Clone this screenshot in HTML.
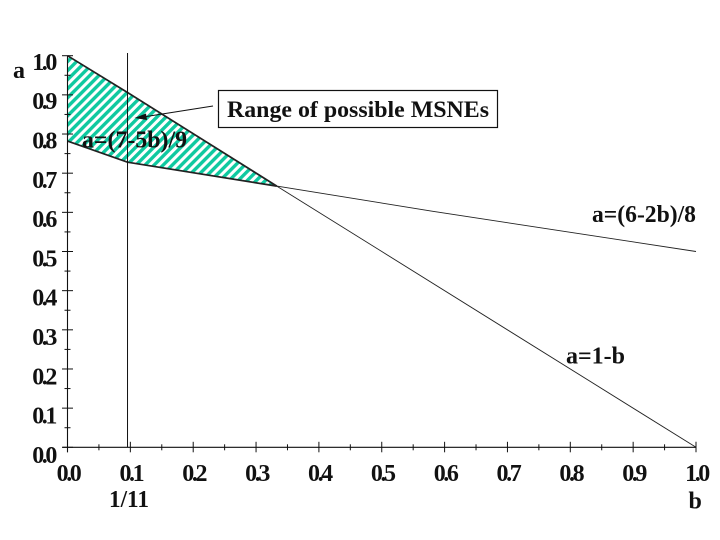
<!DOCTYPE html>
<html lang="en">
<head>
<meta charset="utf-8">
<title>Range of possible MSNEs</title>
<style>
html,body{margin:0;padding:0;background:#fff;}
svg{display:block;}
text{font-family:"Liberation Serif",serif;font-weight:bold;fill:#111;}
</style>
</head>
<body>
<svg id="chart" width="720" height="540" viewBox="0 0 720 540" xmlns="http://www.w3.org/2000/svg">
  <defs>
    <pattern id="hatch" patternUnits="userSpaceOnUse" width="6.4" height="6.4" patternTransform="rotate(45)">
      <rect width="6.4" height="6.4" fill="#fff"/>
      <rect width="3.4" height="6.4" fill="#0fc9a0"/>
    </pattern>
  </defs>
  <g id="marks"></g>
  <g id="axes"></g>
  <g id="tick-labels"></g>
  <text x="13" y="78" font-size="24">a</text>
  <text x="688.5" y="508.5" font-size="24">b</text>
  <text x="109" y="507" font-size="24" textLength="40" lengthAdjust="spacingAndGlyphs">1/11</text>
  <text x="82" y="147.5" font-size="24" textLength="105" lengthAdjust="spacingAndGlyphs">a=(7-5b)/9</text>
  <text x="592" y="222" font-size="24" textLength="104" lengthAdjust="spacingAndGlyphs">a=(6-2b)/8</text>
  <text x="566" y="363.5" font-size="24" textLength="59" lengthAdjust="spacingAndGlyphs">a=1-b</text>
  <g>
    <rect x="218.5" y="90.5" width="279" height="37" fill="#fff" stroke="#111" stroke-width="1.2"/>
    <text x="227" y="117" font-size="23.5" textLength="262" lengthAdjust="spacingAndGlyphs">Range of possible MSNEs</text>
    <line x1="213" y1="106" x2="140" y2="117.5" stroke="#111" stroke-width="1.1"/>
    <polygon points="134.5,118 146,113.5 147,120" fill="#111"/>
  </g>
</svg>
<script>
var xTicks = [0.0, 0.1, 0.2, 0.3, 0.4, 0.5, 0.6, 0.7, 0.8, 0.9, 1.0];
var yTicks = [0.0, 0.1, 0.2, 0.3, 0.4, 0.5, 0.6, 0.7, 0.8, 0.9, 1.0];
var diagonalB = [0.0, 0.0955, 0.333, 1.0];
var diagonalA = [1.0, 0.906, 0.667, 0.0];
var lowerB = [0.0, 0.0955, 0.333, 0.58, 1.0];
var lowerA = [0.782, 0.728, 0.667, 0.603, 0.5];
var verticalB = [0.0955];

var NS = 'http://www.w3.org/2000/svg';
function sx(b) { return 67.5 + b * 628.5; }
function sy(a) { return 447.3 - a * 391.6; }
function make(tag, attrs, parent) {
  var el = document.createElementNS(NS, tag);
  for (var k in attrs) { el.setAttribute(k, attrs[k]); }
  parent.appendChild(el);
  return el;
}
var marks = document.getElementById('marks');
var axes = document.getElementById('axes');
var labels = document.getElementById('tick-labels');

function pointsOf(xs, ys, from, to) {
  var out = [];
  for (var i = from; i <= to; i++) { out.push(sx(xs[i]).toFixed(2) + ',' + sy(ys[i]).toFixed(2)); }
  return out;
}
var regionPts = pointsOf(diagonalB, diagonalA, 0, 2).concat(pointsOf(lowerB, lowerA, 0, 1).reverse());
var region = make('polygon', { points: regionPts.join(' '), fill: 'url(#hatch)' }, marks);



var edgeUpper = make('polyline', { points: pointsOf(diagonalB, diagonalA, 0, 2).join(' '), fill: 'none', stroke: '#222', 'stroke-width': 1.7 }, marks);



var edgeLower = make('polyline', { points: pointsOf(lowerB, lowerA, 0, 2).join(' '), fill: 'none', stroke: '#222', 'stroke-width': 1.7 }, marks);



var lineDiag = make('polyline', { points: pointsOf(diagonalB, diagonalA, 2, 3).join(' '), fill: 'none', stroke: '#222', 'stroke-width': 0.9 }, marks);



var lineLower = make('polyline', { points: pointsOf(lowerB, lowerA, 2, 4).join(' '), fill: 'none', stroke: '#222', 'stroke-width': 0.9 }, marks);



var vLine = make('line', { x1: sx(verticalB[0]), x2: sx(verticalB[0]), y1: 53, y2: sy(0), stroke: '#111', 'stroke-width': 1 }, marks);



var xAxis = make('line', { x1: sx(0) - 5, x2: sx(1), y1: sy(0), y2: sy(0), stroke: '#111', 'stroke-width': 1.1 }, axes);



var yAxis = make('line', { x1: sx(0), x2: sx(0), y1: sy(1), y2: sy(0) + 5, stroke: '#111', 'stroke-width': 1.1 }, axes);



xTicks.forEach(function (v, i) {
  var x = sx(v);
  var major = make('line', { x1: x, x2: x, y1: i === 0 ? sy(0) : sy(0) - 5.5, y2: sy(0) + 5, stroke: '#111', 'stroke-width': 1 }, axes);
  
  
  if (i < xTicks.length - 1) {
    var mx = sx((v + xTicks[i + 1]) / 2);
    var minor = make('line', { x1: mx, x2: mx, y1: sy(0) - 3, y2: sy(0) + 3, stroke: '#111', 'stroke-width': 1 }, axes);
    
    
  }
  var t = make('text', { x: x + 0.5, y: 481, 'font-size': 24, 'text-anchor': 'middle', 'letter-spacing': '-2.4' }, labels);
  
  
  t.textContent = v.toFixed(1);
});

yTicks.forEach(function (v, i) {
  var y = sy(v);
  var major = make('line', { x1: sx(0) - 5.5, x2: sx(0) + 5.5, y1: y, y2: y, stroke: '#111', 'stroke-width': 1 }, axes);
  
  
  if (i < yTicks.length - 1) {
    var my = sy((v + yTicks[i + 1]) / 2);
    var minor = make('line', { x1: sx(0) - 3, x2: sx(0) + 3, y1: my, y2: my, stroke: '#111', 'stroke-width': 1 }, axes);
    
    
  }
  var t = make('text', { x: 55, y: y + 14.2 + (1 - v) * 1.4, 'font-size': 24, 'text-anchor': 'end', 'letter-spacing': '-2.4' }, labels);
  
  
  t.textContent = v.toFixed(1);
});
</script>
</body>
</html>
